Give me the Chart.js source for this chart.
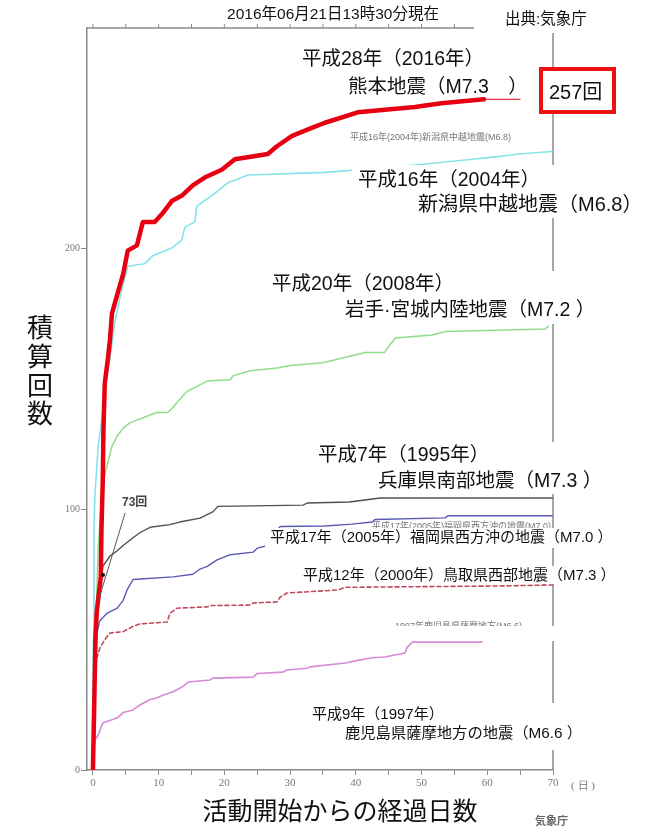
<!DOCTYPE html>
<html lang="ja">
<head>
<meta charset="utf-8">
<script src="https://cdn.jsdelivr.net/npm/chart.js@4.4.1/dist/chart.umd.min.js"></script>
<style>
  html, body { margin: 0; padding: 0; background: #fff; }
</style>
</head>
<body>
<canvas id="chart" width="646" height="828"></canvas>
<script>
// cumulative count of felt aftershocks, [day, count]
const kumamoto = [[0,0],[0.2,25],[0.4,52],[0.6,61],[1.2,74],[1.3,92],[1.5,111],[1.6,130],[1.8,148],[2.3,158],[2.6,165],[2.9,175],[3.8,183],[4.6,190],[5.3,199],[6.7,201],[7.6,210],[9.4,210],[10.5,213],[12,218],[13.5,220],[15.2,224],[17,227],[19.6,230],[21.6,234],[26.6,236],[28,239],[30.3,243],[33.3,246],[35.3,248],[40.3,252],[49,254],[53,255.5],[59.5,257]];
const kumamotoTail = [[59.5,257],[65,257]];
const niigata = [[0,0],[0.05,50],[0.15,92],[0.3,105],[0.8,124],[1.4,135],[1.8,146],[2.6,158],[3.3,171],[4.1,181],[5.3,193],[7.9,194],[9.1,197],[12,200],[13.5,203],[14,208],[15.5,210],[15.8,216],[18.6,221],[20.5,225],[21.6,226],[23.6,228],[35.3,229],[40.6,230],[49.8,232],[57.7,234],[61.6,235],[64.7,236],[69.9,237]];
const iwateMiyagi = [[0,0],[0.3,45],[0.8,85],[1.5,110],[2.9,124],[3.7,128],[4.6,131],[5.6,133],[9.7,137],[11.4,137],[12.2,139],[13.2,142],[14.3,145],[15.8,147],[17.4,149],[20.9,149.5],[21.3,151],[23.9,153],[28,154],[30,155],[35,156],[41.4,160],[44.4,160],[44.9,162],[46,165.5],[51.6,166.7],[53.6,168],[68.8,169],[69.3,170]];
const hyogo = [[0,0],[0.15,35],[0.6,61],[1.1,70],[1.5,78],[2.6,82],[3.7,84],[4.6,86],[6.1,89],[7.2,91],[8.7,93],[11.7,94],[13.2,95],[16.3,96.5],[18.3,99],[19,101],[32,101.5],[32.6,102.3],[39,102.7],[43.7,104.2],[69.9,104.2]];
const fukuoka = [[0,0],[0.2,35],[0.6,52],[1,57],[2.1,60],[3.7,62],[4.6,65],[5.2,69],[6.1,73],[12.2,74],[15.2,75],[16.3,77],[17.4,78],[18.9,80.5],[20.9,82.5],[24.4,83.5],[25,85],[26.6,86],[27.5,90],[28.5,93.3],[35.3,93.5],[39.4,94.2],[42.5,95],[42.9,96],[53.6,96.6],[54,97.4],[69.9,97.4]];
const tottori = [[0,0],[0.15,20],[0.3,37],[0.6,43],[1.1,47],[2.1,51],[2.6,52.5],[4.6,53],[6.1,55],[7.2,56],[11.3,56.7],[11.7,60],[12.8,62],[17.4,62.5],[17.8,63],[23.9,63.2],[24.4,64],[28,64.4],[28.5,66.3],[29.5,67.8],[37.3,69],[38.4,70],[61.6,70.5],[70,70.9]];
const kagoshima = [[0,0],[0.15,8],[0.3,11.5],[0.8,13.4],[1.5,18],[2.6,19],[3.7,20],[4.6,22],[6.1,23],[7.2,25],[8.7,27],[9.7,27.6],[10.7,28.7],[12.2,30],[13.7,32],[14.5,33.7],[17.8,34.5],[18.3,35.2],[24.4,35.6],[25,37],[28.9,37.5],[29.5,38.3],[32.6,39],[33,39.5],[38.4,41],[40.3,42],[42.5,43],[44.4,43.3],[47.5,44.8],[47.8,47],[48.6,49],[59.2,49]];

const xTickStep = 5;
const yTickStep = 100;
const kumamotoTotal = '257回';
const firstDayTotal = '73回';

const JP = '"Liberation Sans", "Noto Sans CJK JP", sans-serif';
const SERIF = '"Liberation Serif", "DejaVu Serif", serif';

const pts = (arr) => arr.map(([x, y]) => ({ x, y }));

// white text boxes that hide the lines behind them, as in the original figure
const masks = [
  [474, 4, 600, 33],
  [352, 165, 645, 218],
  [266, 271, 605, 324],
  [312, 442, 603, 494],
  [265, 528, 612, 548],
  [298, 566, 612, 584],
  [390, 626, 560, 641],
  [306, 703, 585, 750],
];

const texts = [
  { t: '2016年06月21日13時30分現在', x: 333, y: 15, size: 15.5, align: 'center' },
  { t: '出典:気象庁', x: 505, y: 20, size: 15.5 },
  { t: '平成28年（2016年）', x: 302, y: 60, size: 19.5 },
  { t: '熊本地震（M7.3　）', x: 348, y: 88, size: 19.5 },
  { t: '平成16年（2004年）', x: 358, y: 181, size: 19.5 },
  { t: '新潟県中越地震（M6.8）', x: 418, y: 205, size: 20 },
  { t: '平成20年（2008年）', x: 272, y: 285, size: 19.5 },
  { t: '岩手·宮城内陸地震（M7.2 ）', x: 345, y: 311, size: 19.5 },
  { t: '平成7年（1995年）', x: 318, y: 456, size: 19.5 },
  { t: '兵庫県南部地震（M7.3 ）', x: 378, y: 482, size: 19.5 },
  { t: '平成17年（2005年）福岡県西方沖の地震（M7.0 ）', x: 270, y: 538, size: 15 },
  { t: '平成12年（2000年）鳥取県西部地震（M7.3 ）', x: 303, y: 576, size: 15 },
  { t: '平成9年（1997年）', x: 312, y: 715, size: 15 },
  { t: '鹿児島県薩摩地方の地震（M6.6 ）', x: 345, y: 734, size: 15.3 },
  { t: '活動開始からの経過日数', x: 340, y: 813, size: 25, align: 'center' },
  { t: '気象庁', x: 535, y: 822, size: 11, color: '#666', weight: 'bold' },
];

const overlay = {
  id: 'overlay',
  beforeDatasetsDraw(chart) {
    const { ctx, chartArea: a, scales: { x } } = chart;
    ctx.save();
    ctx.strokeStyle = '#8a8a8a';
    ctx.lineWidth = 1.5;
    ctx.beginPath();
    ctx.moveTo(a.left, a.top);
    ctx.lineTo(a.right, a.top);
    ctx.lineTo(a.right, a.bottom);
    ctx.stroke();
    ctx.lineWidth = 1;
    for (let v = 0; v <= 70; v += xTickStep) {
      const px = x.getPixelForValue(v);
      ctx.beginPath();
      ctx.moveTo(px, a.top);
      ctx.lineTo(px, a.top - 4);
      ctx.stroke();
    }
    ctx.restore();
  },
  afterDatasetsDraw(chart) {
    const { ctx, scales: { x, y } } = chart;
    ctx.save();
    ctx.textBaseline = 'middle';

    // small gray captions from the underlying JMA figure
    ctx.fillStyle = '#777';
    ctx.font = `9px ${JP}`;
    ctx.fillText('平成16年(2004年)新潟県中越地震(M6.8)', 350, 138);
    ctx.fillText('平成17年(2005年)福岡県西方沖の地震(M7.0)', 372, 527);
    ctx.fillText('1997年鹿児島県薩摩地方(M6.6)', 395, 627);

    ctx.fillStyle = '#fff';
    masks.forEach(([x0, y0, x1, y1]) => ctx.fillRect(x0, y0, x1 - x0, y1 - y0));

    texts.forEach((d) => {
      ctx.font = `${d.weight || 'normal'} ${d.size}px ${JP}`;
      ctx.fillStyle = d.color || '#111';
      ctx.textAlign = d.align || 'left';
      ctx.fillText(d.t, d.x, d.y);
    });

    // 257回 box
    ctx.textAlign = 'left';
    ctx.fillStyle = '#fff';
    ctx.fillRect(541, 69, 73, 43);
    ctx.strokeStyle = '#ee1111';
    ctx.lineWidth = 4;
    ctx.strokeRect(541, 69, 73, 43);
    ctx.fillStyle = '#111';
    ctx.font = `20px ${JP}`;
    ctx.fillText(kumamotoTotal, 549, 93);

    // 73回 pointer to the day-1 count of Kumamoto
    const px = x.getPixelForValue(1.54), py = y.getPixelForValue(74.7);
    ctx.strokeStyle = '#555';
    ctx.lineWidth = 1;
    ctx.beginPath();
    ctx.moveTo(x.getPixelForValue(4.9), y.getPixelForValue(98.5));
    ctx.lineTo(x.getPixelForValue(0.85), y.getPixelForValue(65));
    ctx.stroke();
    ctx.fillStyle = '#111';
    ctx.beginPath();
    ctx.arc(px, py, 2, 0, Math.PI * 2);
    ctx.fill();
    ctx.fillStyle = '#444';
    ctx.font = `bold 12px ${JP}`;
    ctx.fillText(firstDayTotal, 122, 503);

    // vertical y title
    ctx.fillStyle = '#111';
    ctx.font = `26px ${JP}`;
    ctx.textAlign = 'center';
    ['積', '算', '回', '数'].forEach((c, i) => ctx.fillText(c, 40, 330 + i * 28.7));

    ctx.fillStyle = '#777';
    ctx.font = `11px ${SERIF}`;
    ctx.fillText('( 日 )', 583, 786);
    ctx.restore();
  },
};

const line = (data, color, width, extra) => Object.assign({
  data: pts(data), borderColor: color, borderWidth: width, fill: false,
}, extra || {});

new Chart(document.getElementById('chart'), {
  type: 'line',
  data: {
    datasets: [
      line(kumamoto, '#e60012', 4.5),
      line(kumamotoTail, '#e60012', 1),
      line(niigata, '#86e3ea', 1.6),
      line(iwateMiyagi, '#8fdc8a', 1.5),
      line(hyogo, '#505050', 1.4),
      line(fukuoka, '#5a5ab4', 1.4),
      line(tottori, '#c04a5c', 1.6, { borderDash: [4, 3] }),
      line(kagoshima, '#d88ad6', 1.6),
    ],
  },
  options: {
    responsive: false,
    animation: false,
    layout: { padding: { top: 28, right: 93, left: 0, bottom: 0 } },
    plugins: { legend: { display: false }, tooltip: { enabled: false } },
    elements: { point: { radius: 0 }, line: { tension: 0, borderJoinStyle: 'round', borderCapStyle: 'round' } },
    scales: {
      x: {
        type: 'linear', min: -0.9, max: 70,
        afterFit: (s) => { s.height = 58; },
        ticks: {
          stepSize: xTickStep, includeBounds: false, autoSkip: false, maxRotation: 0, padding: 2,
          color: '#777', font: { family: SERIF, size: 11 },
          callback: (v) => (v % 10 === 0 ? String(v) : ''),
        },
        grid: { drawOnChartArea: false, tickLength: 5, color: '#8a8a8a' },
        border: { color: '#8a8a8a', width: 1.5 },
      },
      y: {
        min: 0, max: 284.3,
        afterFit: (s) => { s.width = 87; },
        ticks: {
          stepSize: yTickStep, includeBounds: false, padding: 1,
          color: '#777', font: { family: SERIF, size: 10 },
        },
        grid: { drawOnChartArea: false, tickLength: 6, color: '#8a8a8a' },
        border: { color: '#8a8a8a', width: 1.5 },
      },
    },
  },
  plugins: [overlay],
});
</script>
</body>
</html>
